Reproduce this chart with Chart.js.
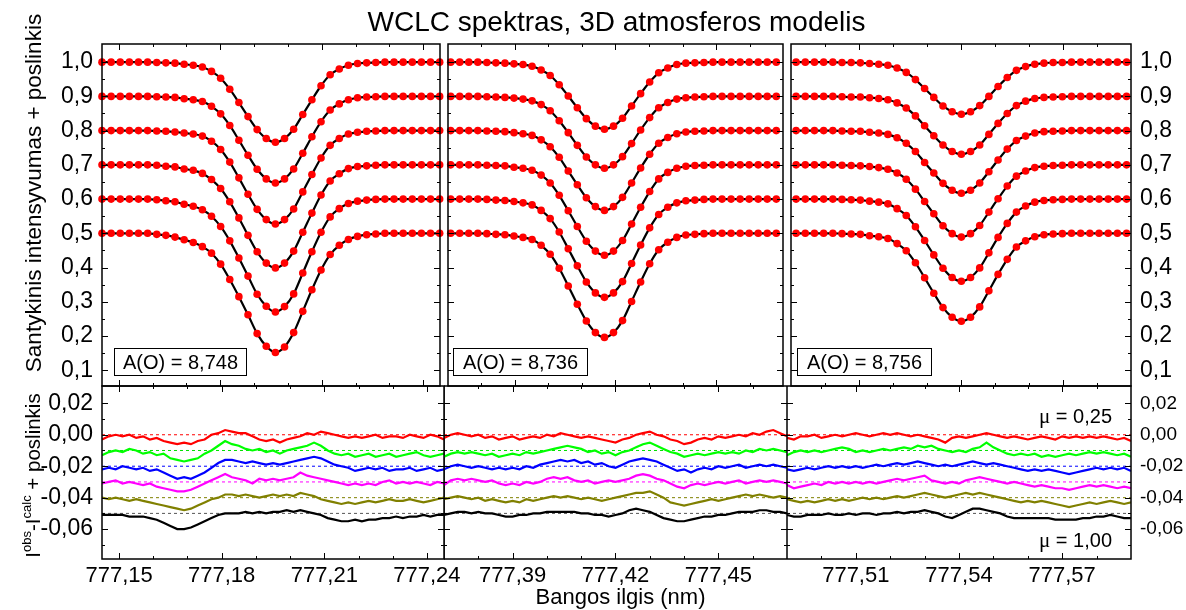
<!DOCTYPE html>
<html><head><meta charset="utf-8">
<script src="https://cdn.jsdelivr.net/npm/chart.js@4.4.0/dist/chart.umd.min.js"></script>
<style>
html,body{margin:0;padding:0;background:#fff;}
#wrap{position:relative;width:1186px;height:610px;overflow:hidden;font-family:"Liberation Sans",Arial,sans-serif;color:#000;background:#fff;}
canvas{position:absolute;}
.t{position:absolute;white-space:nowrap;}
.box{position:absolute;border:1px solid #000;font-size:20px;line-height:26px;text-align:center;white-space:nowrap;}
</style></head><body><div id="wrap">
<canvas id="cTL" width="444" height="402" style="left:0px;top:14px"></canvas>
<canvas id="cTM" width="343" height="402" style="left:444px;top:14px"></canvas>
<canvas id="cTR" width="399" height="402" style="left:787px;top:14px"></canvas>
<canvas id="cBL" width="484" height="244" style="left:0px;top:356px"></canvas>
<canvas id="cBM" width="343" height="244" style="left:444px;top:356px"></canvas>
<canvas id="cBR" width="399" height="244" style="left:787px;top:356px"></canvas>

<div class="t" style="left:102px;width:1029px;text-align:center;top:6px;font-size:28px;line-height:32px">WCLC spektras, 3D atmosferos modelis</div>
<div class="t" style="left:106px;width:1029px;text-align:center;top:584px;font-size:22px;line-height:26px">Bangos ilgis (nm)</div>
<div class="t" style="left:-166px;top:180px;width:400px;text-align:center;font-size:22.5px;line-height:26px;transform:rotate(-90deg)">Santykinis intensyvumas + poslinkis</div>
<div class="t" style="left:-86px;top:461px;width:240px;text-align:center;font-size:20.5px;line-height:26px;transform:rotate(-90deg)">I<span style="font-size:13px;position:relative;top:-9px">obs</span>-I<span style="font-size:13px;position:relative;top:-9px">calc</span> + poslinkis</div>

<div class="box" style="left:114px;top:348px;width:131px;height:26px">A(O) = 8,748</div>
<div class="box" style="left:453px;top:348px;width:133px;height:26px">A(O) = 8,736</div>
<div class="box" style="left:797px;top:348px;width:133px;height:26px">A(O) = 8,756</div>

<div class="t" style="left:1000px;width:112px;text-align:right;top:404px;font-size:20px;line-height:24px"><span style="font-family:'Liberation Serif',serif;font-size:21px">μ</span> = 0,25</div>
<div class="t" style="left:1000px;width:112px;text-align:right;top:528px;font-size:20px;line-height:24px"><span style="font-family:'Liberation Serif',serif;font-size:21px">μ</span> = 1,00</div>
</div>
<script>
// ---------- axis ranges and ticks ----------
const xRangeP1 = [777.145, 777.245];
const xRangeP2 = [777.37, 777.47];
const xRangeP3 = [777.49, 777.59];
const yRangeTop = [0.054, 1.053];
const yRangeBot = [-0.079, 0.031];

const xLabelsP1 = [777.15, 777.18, 777.21, 777.24];
const xLabelsP2 = [777.39, 777.42, 777.45];
const xLabelsP3 = [777.51, 777.54, 777.57];
const xMarksP1 = [777.15,777.16,777.17,777.18,777.19,777.20,777.21,777.22,777.23,777.24];
const xMarksP2 = [777.38,777.39,777.40,777.41,777.42,777.43,777.44,777.45,777.46];
const xMarksP3 = [777.50,777.51,777.52,777.53,777.54,777.55,777.56,777.57,777.58];
const yLabelsTop = [0.1,0.2,0.3,0.4,0.5,0.6,0.7,0.8,0.9,1.0];
const yMarksTop = [0.1,0.15,0.2,0.25,0.3,0.35,0.4,0.45,0.5,0.55,0.6,0.65,0.7,0.75,0.8,0.85,0.9,0.95,1.0];
const yLabelsBot = [0.02,0,-0.02,-0.04,-0.06];
const yMarksBot = [0.02,0.01,0,-0.01,-0.02,-0.03,-0.04,-0.05,-0.06,-0.07];

// ---------- line profiles (observed points = red, model = black) ----------
const xP1 = [777.1450,777.1477,777.1504,777.1531,777.1558,777.1585,777.1612,777.1639,777.1666,777.1693,777.1720,777.1747,777.1774,777.1801,777.1828,777.1855,777.1882,777.1909,777.1936,777.1963,777.1990,777.2017,777.2044,777.2071,777.2098,777.2125,777.2152,777.2179,777.2206,777.2233,777.2260,777.2287,777.2314,777.2341,777.2368,777.2395,777.2422,777.2449];
const p1_100 = [1,1,1,1,1,1,0.999,0.998,0.997,0.994,0.991,0.986,0.973,0.953,0.921,0.882,0.841,0.803,0.777,0.766,0.777,0.804,0.847,0.890,0.931,0.963,0.980,0.991,0.996,0.998,0.999,1,1,1,1,1,1,1];
const p1_090 = [0.9,0.9,0.9,0.9,0.9,0.9,0.899,0.898,0.897,0.893,0.890,0.885,0.871,0.849,0.815,0.772,0.728,0.687,0.659,0.647,0.659,0.688,0.734,0.782,0.826,0.860,0.878,0.890,0.896,0.898,0.899,0.9,0.9,0.9,0.9,0.9,0.9,0.9];
const p1_080 = [0.8,0.8,0.8,0.8,0.8,0.8,0.799,0.798,0.796,0.793,0.790,0.784,0.769,0.745,0.708,0.662,0.614,0.570,0.540,0.527,0.540,0.571,0.621,0.672,0.720,0.757,0.777,0.790,0.795,0.798,0.799,0.8,0.8,0.8,0.8,0.8,0.8,0.8];
const p1_070 = [0.7,0.7,0.7,0.7,0.7,0.7,0.699,0.696,0.694,0.688,0.684,0.675,0.657,0.631,0.592,0.545,0.494,0.446,0.413,0.399,0.413,0.448,0.503,0.559,0.612,0.653,0.674,0.689,0.695,0.697,0.699,0.7,0.7,0.7,0.7,0.7,0.7,0.7];
const p1_060 = [0.6,0.6,0.6,0.6,0.6,0.6,0.598,0.595,0.592,0.585,0.579,0.569,0.550,0.520,0.478,0.428,0.375,0.322,0.287,0.270,0.286,0.323,0.384,0.446,0.503,0.548,0.572,0.587,0.594,0.597,0.599,0.6,0.6,0.6,0.6,0.6,0.6,0.6];
const p1_050 = [0.5,0.5,0.5,0.5,0.5,0.5,0.497,0.494,0.489,0.481,0.473,0.461,0.442,0.410,0.365,0.315,0.262,0.207,0.170,0.152,0.168,0.210,0.272,0.335,0.393,0.438,0.465,0.482,0.491,0.496,0.498,0.5,0.5,0.5,0.5,0.5,0.5,0.5];

const xP2 = [777.3708,777.3735,777.3762,777.3789,777.3816,777.3843,777.3870,777.3897,777.3924,777.3951,777.3978,777.4005,777.4032,777.4059,777.4086,777.4113,777.4140,777.4167,777.4194,777.4221,777.4248,777.4275,777.4302,777.4329,777.4356,777.4383,777.4410,777.4437,777.4464,777.4491,777.4518,777.4545,777.4572,777.4599,777.4626,777.4653,777.4680];
const p2_100 = [1,1,1,1,0.999,0.998,0.997,0.995,0.993,0.988,0.977,0.961,0.934,0.901,0.867,0.835,0.813,0.804,0.813,0.836,0.872,0.908,0.942,0.969,0.983,0.993,0.997,0.998,0.999,1,1,1,1,1,1,1,1];
const p2_090 = [0.9,0.9,0.9,0.9,0.899,0.898,0.897,0.895,0.892,0.887,0.876,0.858,0.829,0.794,0.757,0.723,0.700,0.690,0.700,0.724,0.762,0.802,0.838,0.867,0.882,0.892,0.896,0.898,0.899,0.9,0.9,0.9,0.9,0.9,0.9,0.9,0.9];
const p2_080 = [0.8,0.8,0.8,0.8,0.799,0.798,0.797,0.794,0.791,0.786,0.773,0.753,0.722,0.682,0.642,0.604,0.578,0.567,0.578,0.605,0.647,0.691,0.731,0.763,0.780,0.791,0.796,0.798,0.799,0.8,0.8,0.8,0.8,0.8,0.8,0.8,0.8];
const p2_070 = [0.7,0.7,0.7,0.7,0.699,0.698,0.697,0.693,0.690,0.684,0.670,0.647,0.611,0.566,0.520,0.477,0.448,0.436,0.448,0.479,0.527,0.576,0.622,0.659,0.678,0.690,0.696,0.698,0.699,0.7,0.7,0.7,0.7,0.7,0.7,0.7,0.7];
const p2_060 = [0.6,0.6,0.6,0.6,0.599,0.597,0.596,0.593,0.589,0.583,0.567,0.543,0.504,0.455,0.405,0.358,0.326,0.313,0.326,0.359,0.412,0.466,0.516,0.555,0.576,0.589,0.595,0.597,0.599,0.6,0.6,0.6,0.6,0.6,0.6,0.6,0.6];
const p2_050 = [0.5,0.5,0.5,0.5,0.499,0.497,0.496,0.492,0.488,0.482,0.465,0.439,0.398,0.346,0.293,0.244,0.210,0.196,0.210,0.245,0.301,0.358,0.411,0.452,0.474,0.488,0.495,0.497,0.499,0.5,0.5,0.5,0.5,0.5,0.5,0.5,0.5];

const xP3 = [777.4915,777.4942,777.4969,777.4996,777.5023,777.5050,777.5077,777.5104,777.5131,777.5158,777.5185,777.5212,777.5239,777.5266,777.5293,777.5320,777.5347,777.5374,777.5401,777.5428,777.5455,777.5482,777.5509,777.5536,777.5563,777.5590,777.5617,777.5644,777.5671,777.5698,777.5725,777.5752,777.5779,777.5806,777.5833,777.5860,777.5887];
const p3_100 = [1,1,1,1,1,0.999,0.999,0.998,0.996,0.994,0.991,0.983,0.970,0.949,0.923,0.897,0.872,0.855,0.848,0.855,0.873,0.900,0.929,0.955,0.976,0.987,0.994,0.997,0.999,0.999,1,1,1,1,1,1,1];
const p3_090 = [0.9,0.9,0.9,0.9,0.9,0.899,0.898,0.898,0.896,0.894,0.890,0.881,0.866,0.843,0.814,0.785,0.758,0.739,0.731,0.739,0.758,0.789,0.821,0.850,0.873,0.886,0.894,0.897,0.898,0.899,0.9,0.9,0.9,0.9,0.9,0.9,0.9];
const p3_080 = [0.8,0.8,0.8,0.8,0.8,0.799,0.798,0.798,0.795,0.793,0.789,0.779,0.763,0.739,0.707,0.676,0.646,0.626,0.617,0.626,0.647,0.680,0.714,0.746,0.771,0.784,0.793,0.797,0.798,0.799,0.8,0.8,0.8,0.8,0.8,0.8,0.8];
const p3_070 = [0.7,0.7,0.7,0.7,0.7,0.699,0.698,0.697,0.695,0.692,0.687,0.676,0.658,0.629,0.593,0.557,0.522,0.499,0.489,0.499,0.523,0.562,0.601,0.638,0.667,0.682,0.692,0.696,0.698,0.699,0.7,0.7,0.7,0.7,0.7,0.7,0.7];
const p3_060 = [0.6,0.6,0.6,0.6,0.6,0.599,0.598,0.597,0.594,0.591,0.586,0.572,0.552,0.519,0.479,0.437,0.398,0.371,0.360,0.371,0.399,0.443,0.488,0.529,0.562,0.580,0.591,0.596,0.598,0.599,0.6,0.6,0.6,0.6,0.6,0.6,0.6];
const p3_050 = [0.5,0.5,0.5,0.5,0.5,0.499,0.498,0.497,0.493,0.490,0.485,0.470,0.449,0.414,0.370,0.325,0.283,0.255,0.243,0.255,0.285,0.332,0.380,0.424,0.460,0.478,0.490,0.496,0.498,0.499,0.5,0.5,0.5,0.5,0.5,0.5,0.5];

// ---------- residuals (obs - calc + offset) ----------
const resOffsets = [0, -0.01, -0.02, -0.03, -0.04, -0.05];
const resColors = ['#ff0000', '#00ff00', '#0000ff', '#ff00ff', '#808000', '#000000'];
const dashColors = ['#ff0000', '#00e000', '#0000ff', '#ff00ff', '#808000', '#555555'];

const xResP1 = [777.145,777.147,777.149,777.151,777.153,777.155,777.157,777.159,777.161,777.163,777.165,777.167,777.169,777.171,777.173,777.175,777.177,777.179,777.181,777.183,777.185,777.187,777.189,777.191,777.193,777.195,777.197,777.199,777.201,777.203,777.205,777.207,777.209,777.211,777.213,777.215,777.217,777.219,777.221,777.223,777.225,777.227,777.229,777.231,777.233,777.235,777.237,777.239,777.241,777.243,777.245];
const resP1_r = [-0.003,-0.001,0,-0.001,0,-0.002,-0.001,-0.003,-0.002,-0.004,-0.005,-0.006,-0.005,-0.006,-0.004,-0.003,0,0.001,0.003,0.002,0.001,0.001,-0.001,-0.003,-0.004,-0.003,-0.005,-0.003,-0.002,-0.001,0.001,0,0.002,0.001,0,-0.001,-0.002,-0.001,-0.002,-0.001,0,-0.002,-0.001,-0.001,-0.002,0,-0.001,-0.002,0,-0.001,-0.003];
const resP1_g = [-0.013,-0.011,-0.010,-0.011,-0.009,-0.010,-0.012,-0.011,-0.013,-0.012,-0.015,-0.016,-0.017,-0.016,-0.015,-0.012,-0.010,-0.007,-0.004,-0.006,-0.007,-0.009,-0.010,-0.009,-0.011,-0.010,-0.012,-0.010,-0.009,-0.008,-0.007,-0.005,-0.007,-0.010,-0.012,-0.013,-0.012,-0.014,-0.013,-0.012,-0.014,-0.013,-0.012,-0.014,-0.013,-0.012,-0.011,-0.013,-0.014,-0.013,-0.012];
const resP1_b = [-0.022,-0.021,-0.022,-0.020,-0.021,-0.022,-0.021,-0.023,-0.022,-0.024,-0.026,-0.028,-0.027,-0.028,-0.026,-0.024,-0.021,-0.018,-0.016,-0.016,-0.017,-0.018,-0.017,-0.018,-0.019,-0.018,-0.019,-0.018,-0.017,-0.016,-0.015,-0.014,-0.015,-0.017,-0.019,-0.020,-0.021,-0.023,-0.022,-0.021,-0.022,-0.021,-0.023,-0.022,-0.022,-0.021,-0.023,-0.022,-0.021,-0.023,-0.022];
const resP1_m = [-0.031,-0.030,-0.029,-0.031,-0.030,-0.031,-0.032,-0.031,-0.033,-0.034,-0.035,-0.036,-0.036,-0.035,-0.033,-0.031,-0.029,-0.027,-0.025,-0.027,-0.028,-0.029,-0.031,-0.028,-0.029,-0.028,-0.029,-0.028,-0.027,-0.024,-0.026,-0.027,-0.028,-0.029,-0.030,-0.031,-0.032,-0.031,-0.032,-0.031,-0.032,-0.030,-0.029,-0.031,-0.030,-0.031,-0.030,-0.031,-0.032,-0.030,-0.031];
const resP1_o = [-0.040,-0.041,-0.040,-0.041,-0.042,-0.041,-0.042,-0.043,-0.044,-0.045,-0.046,-0.047,-0.048,-0.047,-0.045,-0.043,-0.041,-0.040,-0.038,-0.038,-0.039,-0.038,-0.039,-0.040,-0.039,-0.038,-0.039,-0.038,-0.039,-0.037,-0.038,-0.039,-0.041,-0.042,-0.043,-0.044,-0.043,-0.044,-0.043,-0.042,-0.043,-0.042,-0.041,-0.042,-0.042,-0.041,-0.042,-0.043,-0.042,-0.041,-0.040];
const resP1_k = [-0.051,-0.051,-0.051,-0.051,-0.052,-0.052,-0.052,-0.053,-0.054,-0.056,-0.058,-0.060,-0.060,-0.059,-0.057,-0.055,-0.053,-0.051,-0.050,-0.050,-0.050,-0.049,-0.050,-0.049,-0.050,-0.049,-0.049,-0.048,-0.049,-0.048,-0.049,-0.050,-0.051,-0.053,-0.054,-0.055,-0.055,-0.054,-0.055,-0.054,-0.054,-0.053,-0.053,-0.052,-0.053,-0.052,-0.052,-0.051,-0.052,-0.051,-0.051];

const xResP2 = [777.370,777.372,777.374,777.376,777.378,777.380,777.382,777.384,777.386,777.388,777.390,777.392,777.394,777.396,777.398,777.400,777.402,777.404,777.406,777.408,777.410,777.412,777.414,777.416,777.418,777.420,777.422,777.424,777.426,777.428,777.430,777.432,777.434,777.436,777.438,777.440,777.442,777.444,777.446,777.448,777.450,777.452,777.454,777.456,777.458,777.460,777.462,777.464,777.466,777.468,777.470];
const resP2_r = [-0.002,0,0.001,0,-0.001,0,-0.002,-0.001,-0.003,-0.002,-0.001,-0.003,-0.002,-0.001,-0.002,0,-0.001,0.001,0,-0.001,-0.002,-0.001,-0.002,-0.003,-0.004,-0.005,-0.003,-0.002,0,0.001,0.002,0,-0.001,-0.003,-0.004,-0.006,-0.005,-0.003,-0.002,-0.003,-0.001,-0.002,-0.001,0,-0.001,0.001,0,0.002,0.003,0.001,-0.001];
const resP2_g = [-0.014,-0.012,-0.011,-0.012,-0.011,-0.012,-0.013,-0.012,-0.014,-0.013,-0.012,-0.013,-0.011,-0.012,-0.011,-0.010,-0.009,-0.008,-0.007,-0.008,-0.009,-0.011,-0.010,-0.012,-0.011,-0.013,-0.011,-0.010,-0.008,-0.006,-0.005,-0.007,-0.009,-0.011,-0.012,-0.014,-0.013,-0.012,-0.013,-0.012,-0.011,-0.012,-0.011,-0.012,-0.010,-0.011,-0.009,-0.010,-0.009,-0.010,-0.011];
const resP2_b = [-0.022,-0.020,-0.019,-0.020,-0.021,-0.020,-0.021,-0.022,-0.021,-0.022,-0.021,-0.022,-0.020,-0.021,-0.019,-0.018,-0.017,-0.016,-0.017,-0.016,-0.018,-0.017,-0.019,-0.018,-0.020,-0.021,-0.019,-0.017,-0.016,-0.015,-0.016,-0.017,-0.019,-0.021,-0.023,-0.022,-0.024,-0.022,-0.021,-0.022,-0.020,-0.021,-0.020,-0.019,-0.021,-0.020,-0.019,-0.020,-0.019,-0.020,-0.021];
const resP2_m = [-0.032,-0.029,-0.028,-0.029,-0.028,-0.029,-0.030,-0.029,-0.031,-0.032,-0.031,-0.032,-0.030,-0.031,-0.030,-0.028,-0.027,-0.028,-0.027,-0.029,-0.030,-0.029,-0.031,-0.030,-0.029,-0.030,-0.029,-0.028,-0.026,-0.025,-0.026,-0.028,-0.029,-0.031,-0.033,-0.034,-0.032,-0.031,-0.032,-0.031,-0.030,-0.031,-0.030,-0.029,-0.031,-0.030,-0.029,-0.030,-0.029,-0.030,-0.031];
const resP2_o = [-0.041,-0.040,-0.039,-0.040,-0.041,-0.040,-0.042,-0.041,-0.042,-0.043,-0.042,-0.043,-0.041,-0.042,-0.041,-0.040,-0.039,-0.040,-0.039,-0.040,-0.041,-0.040,-0.041,-0.042,-0.041,-0.040,-0.039,-0.038,-0.037,-0.037,-0.036,-0.038,-0.040,-0.043,-0.044,-0.045,-0.044,-0.043,-0.042,-0.041,-0.042,-0.041,-0.040,-0.039,-0.038,-0.039,-0.038,-0.039,-0.040,-0.039,-0.040];
const resP2_k = [-0.051,-0.050,-0.049,-0.049,-0.050,-0.049,-0.050,-0.050,-0.051,-0.052,-0.052,-0.051,-0.051,-0.050,-0.050,-0.049,-0.049,-0.049,-0.049,-0.049,-0.050,-0.050,-0.051,-0.051,-0.052,-0.051,-0.050,-0.048,-0.047,-0.048,-0.049,-0.051,-0.053,-0.054,-0.055,-0.055,-0.054,-0.053,-0.052,-0.052,-0.051,-0.051,-0.050,-0.049,-0.049,-0.049,-0.048,-0.048,-0.049,-0.049,-0.050];

const xResP3 = [777.490,777.492,777.494,777.496,777.498,777.500,777.502,777.504,777.506,777.508,777.510,777.512,777.514,777.516,777.518,777.520,777.522,777.524,777.526,777.528,777.530,777.532,777.534,777.536,777.538,777.540,777.542,777.544,777.546,777.548,777.550,777.552,777.554,777.556,777.558,777.560,777.562,777.564,777.566,777.568,777.570,777.572,777.574,777.576,777.578,777.580,777.582,777.584,777.586,777.588,777.590];
const resP3_r = [-0.002,-0.003,-0.001,-0.001,0,-0.002,-0.001,0,-0.001,0,0.001,0,-0.001,0,0.001,0,0.001,0,-0.001,0,-0.001,-0.002,-0.003,-0.005,-0.002,-0.001,-0.002,-0.001,0,0.001,0,-0.001,-0.002,-0.001,-0.002,-0.003,-0.002,-0.001,-0.002,-0.003,-0.001,-0.002,-0.001,-0.002,-0.001,-0.002,-0.001,-0.002,-0.003,-0.002,-0.004];
const resP3_g = [-0.013,-0.011,-0.010,-0.011,-0.010,-0.011,-0.010,-0.009,-0.008,-0.009,-0.011,-0.010,-0.011,-0.010,-0.009,-0.010,-0.009,-0.008,-0.009,-0.007,-0.008,-0.007,-0.009,-0.010,-0.011,-0.010,-0.011,-0.009,-0.008,-0.005,-0.008,-0.010,-0.012,-0.013,-0.012,-0.013,-0.012,-0.014,-0.013,-0.014,-0.013,-0.012,-0.013,-0.012,-0.011,-0.012,-0.011,-0.012,-0.013,-0.012,-0.014];
const resP3_b = [-0.022,-0.023,-0.022,-0.021,-0.022,-0.021,-0.020,-0.021,-0.020,-0.021,-0.020,-0.021,-0.020,-0.019,-0.020,-0.019,-0.018,-0.019,-0.018,-0.017,-0.018,-0.019,-0.020,-0.019,-0.020,-0.019,-0.018,-0.017,-0.018,-0.019,-0.018,-0.019,-0.020,-0.021,-0.022,-0.023,-0.022,-0.023,-0.022,-0.023,-0.024,-0.025,-0.024,-0.023,-0.022,-0.021,-0.022,-0.021,-0.022,-0.021,-0.023];
const resP3_m = [-0.032,-0.034,-0.033,-0.032,-0.031,-0.032,-0.030,-0.031,-0.030,-0.031,-0.030,-0.031,-0.030,-0.031,-0.030,-0.029,-0.028,-0.029,-0.028,-0.027,-0.026,-0.029,-0.030,-0.031,-0.030,-0.031,-0.029,-0.028,-0.027,-0.028,-0.029,-0.030,-0.031,-0.030,-0.031,-0.032,-0.033,-0.032,-0.033,-0.034,-0.034,-0.035,-0.034,-0.033,-0.032,-0.033,-0.032,-0.033,-0.034,-0.033,-0.034];
const resP3_o = [-0.041,-0.042,-0.043,-0.042,-0.043,-0.042,-0.041,-0.042,-0.041,-0.042,-0.041,-0.040,-0.041,-0.040,-0.041,-0.040,-0.039,-0.040,-0.039,-0.038,-0.037,-0.038,-0.039,-0.040,-0.039,-0.038,-0.037,-0.038,-0.037,-0.038,-0.039,-0.040,-0.041,-0.042,-0.043,-0.042,-0.043,-0.042,-0.043,-0.044,-0.045,-0.046,-0.045,-0.044,-0.043,-0.044,-0.043,-0.042,-0.043,-0.044,-0.043];
const resP3_k = [-0.051,-0.052,-0.052,-0.051,-0.051,-0.051,-0.050,-0.051,-0.051,-0.050,-0.051,-0.050,-0.050,-0.051,-0.050,-0.050,-0.049,-0.050,-0.049,-0.049,-0.048,-0.049,-0.050,-0.052,-0.053,-0.051,-0.049,-0.047,-0.047,-0.048,-0.049,-0.050,-0.052,-0.053,-0.053,-0.053,-0.053,-0.053,-0.053,-0.054,-0.054,-0.054,-0.054,-0.053,-0.053,-0.052,-0.052,-0.051,-0.052,-0.053,-0.053];

// ---------- rendering ----------
Chart.defaults.font.family = '"Liberation Sans", Arial, sans-serif';
Chart.defaults.color = '#000';

const near = (arr, v) => arr.some(m => Math.abs(m - v) < 1e-9);
const framePlugin = {
  id: 'frameTicks',
  afterDraw(chart, args, o) {
    const {ctx, chartArea: a, scales} = chart;
    ctx.save();
    ctx.strokeStyle = '#000';
    ctx.lineWidth = 1;
    ctx.beginPath();
    o.xMarks.forEach(v => {
      const px = Math.round(scales.x.getPixelForValue(v)) + 0.5;
      const len = near(o.xMajor, v) ? 6 : 3;
      ctx.moveTo(px, a.bottom); ctx.lineTo(px, a.bottom - len);
      ctx.moveTo(px, a.top); ctx.lineTo(px, a.top + len);
    });
    o.yMarks.forEach(v => {
      const py = Math.round(scales.y.getPixelForValue(v)) + 0.5;
      const len = near(o.yMajor, v) ? 6 : 3;
      ctx.moveTo(a.left, py); ctx.lineTo(a.left + len, py);
      ctx.moveTo(a.right, py); ctx.lineTo(a.right - len, py);
    });
    ctx.stroke();
    ctx.lineWidth = 1.5;
    ctx.strokeRect(a.left, a.top, a.right - a.left, a.bottom - a.top);
    ctx.restore();
  }
};

const fmt = d => v => Number(v).toFixed(d).replace('.', ',');

function profileSets(xs, profiles) {
  return profiles.map(p => ({
    data: xs.map((x, i) => ({x: x, y: p[i]})),
    borderColor: '#000', borderWidth: 2.2, cubicInterpolationMode: 'monotone',
    pointRadius: 3.8, pointBackgroundColor: '#ff0000', pointBorderColor: '#ff0000', pointBorderWidth: 0,
    clip: 6
  }));
}
function residualSets(xs, series) {
  const lines = series.map((s, j) => ({
    data: xs.map((x, i) => ({x: x, y: s[i]})),
    borderColor: resColors[j], borderWidth: 2.2, pointRadius: 0, tension: 0, clip: 0
  }));
  const dashes = resOffsets.map((off, j) => ({
    data: [{x: xs[0], y: off}, {x: xs[xs.length - 1], y: off}],
    borderColor: dashColors[j], borderWidth: 1, borderDash: [3, 3], pointRadius: 0, clip: 0
  }));
  return lines.concat(dashes);
}

function makeChart(id, c) {
  return new Chart(document.getElementById(id), {
    type: 'line',
    data: {datasets: c.datasets},
    options: {
      responsive: false, animation: false, devicePixelRatio: 1, events: [],
      layout: {padding: c.padding},
      plugins: {legend: {display: false}, tooltip: {enabled: false},
        frameTicks: {xMarks: c.xMarks, xMajor: c.xLabels, yMarks: c.yMarks, yMajor: c.yLabels}},
      scales: {
        x: {type: 'linear', min: c.xRange[0], max: c.xRange[1], display: c.xShow, position: 'bottom',
          grid: {display: false, drawTicks: false, tickLength: 0}, border: {display: false},
          afterFit: s => { s.height = c.xHeight; },
          afterBuildTicks: s => { s.ticks = c.xLabels.map(v => ({value: v})); },
          ticks: {autoSkip: false, maxRotation: 0, minRotation: 0, padding: 4, color: '#000', font: {size: 22}, callback: fmt(2)}},
        y: {type: 'linear', min: c.yRange[0], max: c.yRange[1], display: c.yShow, position: c.yPos,
          grid: {display: false, drawTicks: false, tickLength: 0}, border: {display: false},
          afterFit: s => { s.width = c.yWidth; },
          afterBuildTicks: s => { s.ticks = c.yLabels.map(v => ({value: v})); },
          ticks: {autoSkip: false, padding: 9, color: '#000', font: {size: c.yFont}, callback: fmt(c.yDec)}}
      }
    },
    plugins: [framePlugin]
  });
}

const topProfiles1 = [p1_100, p1_090, p1_080, p1_070, p1_060, p1_050];
const topProfiles2 = [p2_100, p2_090, p2_080, p2_070, p2_060, p2_050];
const topProfiles3 = [p3_100, p3_090, p3_080, p3_070, p3_060, p3_050];

makeChart('cTL', {datasets: profileSets(xP1, topProfiles1), padding: {top: 30, bottom: 30, left: 0, right: 0},
  xRange: xRangeP1, xShow: false, xHeight: 0, xLabels: xLabelsP1, xMarks: xMarksP1,
  yRange: yRangeTop, yShow: true, yPos: 'left', yWidth: 102, yLabels: yLabelsTop, yMarks: yMarksTop, yFont: 23, yDec: 1});
makeChart('cTM', {datasets: profileSets(xP2, topProfiles2), padding: {top: 30, bottom: 30, left: 0, right: 0},
  xRange: xRangeP2, xShow: false, xHeight: 0, xLabels: xLabelsP2, xMarks: xMarksP2,
  yRange: yRangeTop, yShow: false, yPos: 'left', yWidth: 0, yLabels: yLabelsTop, yMarks: yMarksTop, yFont: 23, yDec: 1});
makeChart('cTR', {datasets: profileSets(xP3, topProfiles3), padding: {top: 30, bottom: 30, left: 0, right: 0},
  xRange: xRangeP3, xShow: false, xHeight: 0, xLabels: xLabelsP3, xMarks: xMarksP3,
  yRange: yRangeTop, yShow: true, yPos: 'right', yWidth: 55, yLabels: yLabelsTop, yMarks: yMarksTop, yFont: 23, yDec: 1});

makeChart('cBL', {datasets: residualSets(xResP1, [resP1_r, resP1_g, resP1_b, resP1_m, resP1_o, resP1_k]),
  padding: {top: 30, bottom: 0, left: 0, right: 40},
  xRange: xRangeP1, xShow: true, xHeight: 41, xLabels: xLabelsP1, xMarks: xMarksP1,
  yRange: yRangeBot, yShow: true, yPos: 'left', yWidth: 102, yLabels: yLabelsBot, yMarks: yMarksBot, yFont: 23, yDec: 2});
makeChart('cBM', {datasets: residualSets(xResP2, [resP2_r, resP2_g, resP2_b, resP2_m, resP2_o, resP2_k]),
  padding: {top: 30, bottom: 0, left: 0, right: 0},
  xRange: xRangeP2, xShow: true, xHeight: 41, xLabels: xLabelsP2, xMarks: xMarksP2,
  yRange: yRangeBot, yShow: false, yPos: 'left', yWidth: 0, yLabels: yLabelsBot, yMarks: yMarksBot, yFont: 23, yDec: 2});
makeChart('cBR', {datasets: residualSets(xResP3, [resP3_r, resP3_g, resP3_b, resP3_m, resP3_o, resP3_k]),
  padding: {top: 30, bottom: 0, left: 0, right: 0},
  xRange: xRangeP3, xShow: true, xHeight: 41, xLabels: xLabelsP3, xMarks: xMarksP3,
  yRange: yRangeBot, yShow: true, yPos: 'right', yWidth: 55, yLabels: yLabelsBot, yMarks: yMarksBot, yFont: 19, yDec: 2});
</script>
</body></html>
